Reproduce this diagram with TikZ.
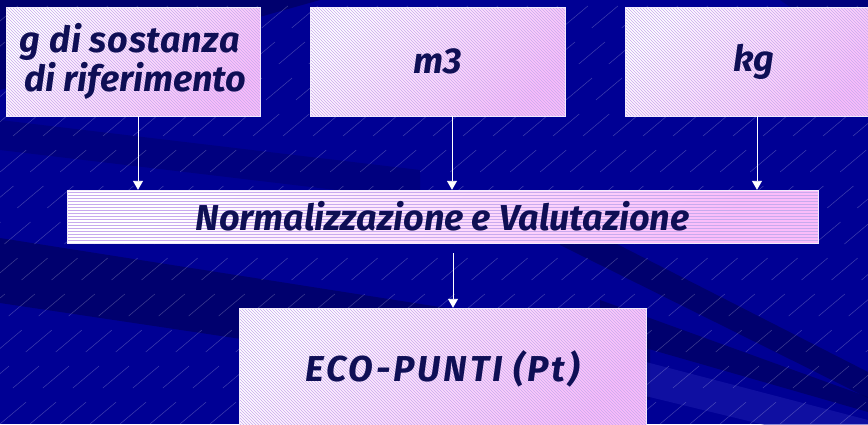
\documentclass[tikz,border=0pt]{standalone}
\usepackage{fontspec}
\setmainfont{Fira Sans}
\usetikzlibrary{arrows.meta,patterns,shadings}
\definecolor{bgblue}{RGB}{0,0,148}
\definecolor{bgdark}{RGB}{0,0,80}
\definecolor{bglight}{RGB}{30,30,175}
\definecolor{textc}{RGB}{15,15,85}
\definecolor{pinkc}{RGB}{250,188,250}
\definecolor{hatchc}{RGB}{200,170,238}
\definecolor{boxedge}{RGB}{240,232,252}
\begin{document}
\begin{tikzpicture}[x=1pt,y=-1pt,
  bgline/.style={draw=white, opacity=0.25, line width=0.5pt, dash pattern=on 34pt off 22pt},
  band/.style={fill=bgdark, opacity=0.55},
  lband/.style={fill=bglight, opacity=0.5},
  boxbase/.style={rectangle, inner sep=0pt, text=textc,
    font=\fontsize{36}{39}\selectfont\bfseries\itshape,
    preaction={left color=white, right color=pinkc, shading angle=45}},
  diagbox/.style={boxbase,
    postaction={pattern=north west lines, pattern color=hatchc},
    postaction={draw=boxedge, line width=0.8pt}},
  horbox/.style={boxbase,
    postaction={pattern=horizontal lines, pattern color=hatchc},
    postaction={draw=boxedge, line width=0.8pt}},
  arr/.style={draw=white, line width=0.9pt, -{Triangle[width=10pt,length=9pt]}}]
\clip (0,0) rectangle (868,424);
% background
\fill[bgblue] (0,0) rectangle (868,424);
\fill[band] (0,0) -- (320,0) -- (0,90) -- cycle;
\fill[band, opacity=0.3] (0,120) -- (420,170) -- (420,200) -- (0,150) -- cycle;
\fill[band] (0,238) -- (650,340) -- (650,400) -- (0,303) -- cycle;
\fill[band] (560,215) -- (868,372) -- (868,398) -- (560,245) -- cycle;
\fill[band] (600,300) -- (868,397) -- (868,412) -- (600,335) -- cycle;
\fill[lband] (600,350) -- (868,420) -- (868,450) -- (600,385) -- cycle;
\fill[band, opacity=0.35] (780,0) -- (868,0) -- (868,60) -- cycle;
\foreach \i in {-540,-510,...,900} \draw[bgline] (\i,424) -- ++(505,-424);
% boxes
\node[diagbox, minimum width=254pt, minimum height=109pt, align=left] (b1) at (133,61.5)
  {\addfontfeature{LetterSpace=2}g di sostanza\\\hspace*{5pt}di riferimento};
\node[diagbox, minimum width=255pt, minimum height=109pt] (b2) at (437.5,61.5) {m3};
\node[diagbox, minimum width=250pt, minimum height=109pt] (b3) at (750,61.5) {\hspace*{8pt}kg};
\node[horbox, minimum width=751pt, minimum height=53pt] (mid) at (442.5,216.5)
  {Normalizzazione e Valutazione};
\node[diagbox, minimum width=407pt, minimum height=122pt] (b4) at (442.5,369)
  {\addfontfeature{LetterSpace=8}ECO-PUNTI (Pt)};
% connectors
\draw[arr] ([xshift=5pt]b1.south) -- ([xshift=5pt]b1.south |- mid.north);
\draw[arr] ([xshift=14.5pt]b2.south) -- ([xshift=14.5pt]b2.south |- mid.north);
\draw[arr] ([xshift=7pt]b3.south) -- ([xshift=7pt]b3.south |- mid.north);
\draw[arr] ([xshift=10.5pt,yshift=-10pt]mid.south) -- ([xshift=10.5pt]mid.south |- b4.north);
\end{tikzpicture}
\end{document}
